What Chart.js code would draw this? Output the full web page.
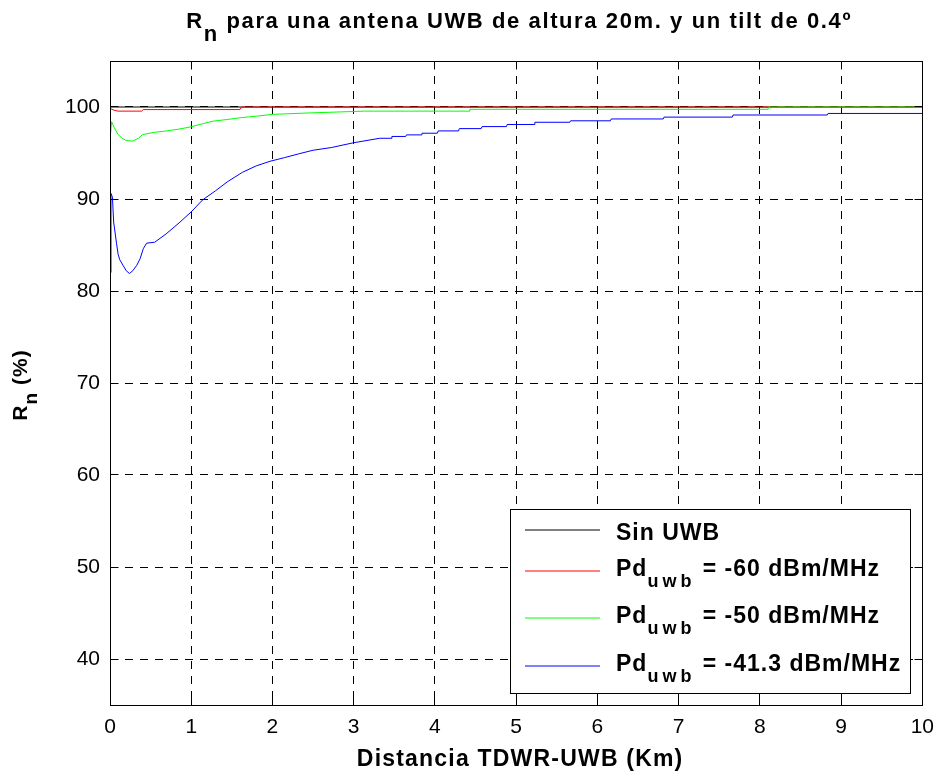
<!DOCTYPE html>
<html>
<head>
<meta charset="utf-8">
<script src="https://cdn.jsdelivr.net/npm/chart.js@4.4.1/dist/chart.umd.min.js"></script>
<style>
html,body{margin:0;padding:0;background:#fff;}
#wrap{width:944px;height:773px;}
</style>
</head>
<body>
<div id="wrap"><canvas id="c" width="944" height="773"></canvas></div>
<script>
// ---- data ----
const xTicks = [0,1,2,3,4,5,6,7,8,9,10];
const yTicks = [40,50,60,70,80,90,100];

const sinUWB = [[0,100],[10,100]];
const pd60 = [[0,99.85],[0.05,99.65],[0.1,99.55],[0.39,99.55],[0.41,99.72],[1.6,99.72],[1.62,100],[10,100]];
const pd50 = [[0,96.4],[0.02,98.4],[0.05,97.8],[0.1,97.0],[0.15,96.6],[0.2,96.35],[0.28,96.3],[0.35,96.6],
  [0.4,97.0],[0.55,97.25],[0.7,97.4],[0.85,97.6],[1.0,97.85],[1.15,98.2],[1.26,98.45],[1.45,98.65],
  [1.62,98.85],[1.8,99.0],[2.0,99.2],[2.44,99.35],[3.13,99.55],[4.42,99.55],[4.43,99.75],[8.1,99.75],
  [8.11,100],[10,100]];
const pd413 = [[0,82.0],[0.012,90.6],[0.03,90.2],[0.045,87.5],[0.08,85.2],[0.1,84.0],[0.12,83.4],[0.16,82.8],
  [0.2,82.2],[0.24,81.9],[0.28,82.2],[0.33,82.8],[0.37,83.5],[0.41,84.6],[0.45,85.2],[0.55,85.3],[0.69,86.2],
  [0.85,87.4],[1.0,88.6],[1.14,89.9],[1.3,90.9],[1.45,91.9],[1.63,92.9],[1.8,93.6],[1.97,94.1],[2.15,94.5],
  [2.32,94.9],[2.5,95.3],[2.73,95.6],[2.99,96.1],[3.32,96.6],[3.46,96.6],[3.47,96.8],[3.64,96.8],[3.65,96.97],
  [3.83,96.97],[3.84,97.15],[4.03,97.15],[4.04,97.4],[4.29,97.4],[4.3,97.65],[4.57,97.65],[4.58,97.87],
  [4.88,97.87],[4.89,98.1],[5.22,98.1],[5.23,98.34],[5.66,98.34],[5.67,98.5],[6.16,98.5],[6.17,98.7],
  [6.81,98.7],[6.82,98.9],[7.66,98.9],[7.67,99.13],[8.83,99.13],[8.84,99.3],[10,99.3]];

const seriesData = [sinUWB, pd60, pd50, pd413];
const seriesColors = ['#000000','#ff0000','#00ff00','#0000ff'];
const legendMain = ['Sin UWB','Pd','Pd','Pd'];
const legendSub = ['','uwb','uwb','uwb'];
const legendTail = ['',' = -60 dBm/MHz',' = -50 dBm/MHz',' = -41.3 dBm/MHz'];

const titleMain = 'R';
const titleSub = 'n';
const titleTail = ' para una antena UWB de altura 20m. y un tilt de 0.4º';
const yLabelMain = 'R';
const yLabelSub = 'n';
const yLabelTail = ' (%)';
const xLabel = 'Distancia TDWR-UWB (Km)';

// ---- drawing helpers ----
const FF = '"Liberation Sans", Arial, Helvetica, sans-serif';

function measure(ctx, p) {
  const sp = p.spacing || 0;
  let w = 0; for (const ch of p.text) w += ctx.measureText(ch).width + sp; return w;
}
function drawParts(ctx, parts, x, y, center) {
  let w = 0;
  parts.forEach(p => { ctx.font = p.font; p.w = measure(ctx, p); w += p.w; });
  let cx = center ? x - w / 2 : x;
  parts.forEach(p => {
    ctx.font = p.font;
    const sp = p.spacing || 0;
    for (const ch of p.text) { ctx.fillText(ch, cx, y + (p.dy || 0)); cx += ctx.measureText(ch).width + sp; }
  });
}

const decorPlugin = {
  id: 'decor',
  afterDraw(chart) {
    const ctx = chart.ctx;
    const a = chart.chartArea;
    const xs = chart.scales.x, ys = chart.scales.y;
    ctx.save();
    ctx.strokeStyle = '#000'; ctx.lineWidth = 1; ctx.setLineDash([]);
    const L0 = Math.floor(a.left) + 0.5, T0 = Math.floor(a.top) + 0.5;
    const R0 = Math.floor(a.right) + 0.5, B0 = Math.floor(a.bottom) + 0.5;
    ctx.strokeRect(L0, T0, R0 - L0, B0 - T0);
    const tl = 8;
    ctx.beginPath();
    xTicks.forEach(v => {
      const px = Math.floor(xs.getPixelForValue(v)) + 0.5;
      ctx.moveTo(px, B0); ctx.lineTo(px, B0 - tl);
      ctx.moveTo(px, T0); ctx.lineTo(px, T0 + tl);
    });
    yTicks.forEach(v => {
      const py = Math.floor(ys.getPixelForValue(v)) + 0.5;
      ctx.moveTo(L0, py); ctx.lineTo(L0 + tl, py);
      ctx.moveTo(R0, py); ctx.lineTo(R0 - tl, py);
    });
    ctx.stroke();

    ctx.fillStyle = '#000';
    ctx.textBaseline = 'alphabetic';
    const midX = (a.left + a.right) / 2;
    drawParts(ctx, [
      {text: titleMain, font: 'bold 22px ' + FF, spacing: 1.6},
      {text: titleSub, font: 'bold 22px ' + FF, dy: 13, spacing: 1.6},
      {text: titleTail, font: 'bold 22px ' + FF, spacing: 1.6}
    ], midX + 3, 28, true);
    drawParts(ctx, [{text: xLabel, font: 'bold 23px ' + FF, spacing: 1.2}], midX + 4, 766, true);
    ctx.save();
    ctx.translate(27, (a.top + a.bottom) / 2 + 2);
    ctx.rotate(-Math.PI / 2);
    drawParts(ctx, [
      {text: yLabelMain, font: 'bold 21px ' + FF, spacing: 1},
      {text: yLabelSub, font: 'bold 19px ' + FF, dy: 10, spacing: 1},
      {text: yLabelTail, font: 'bold 21px ' + FF, spacing: 1}
    ], 0, 0, true);
    ctx.restore();

    // legend
    const L = {x: 510, y: 509, w: 400, h: 184};
    ctx.fillStyle = '#fff';
    ctx.fillRect(L.x, L.y, L.w, L.h);
    ctx.strokeStyle = '#000'; ctx.lineWidth = 1;
    ctx.strokeRect(L.x + 0.5, L.y + 0.5, L.w, L.h);
    const lineY = [530, 571, 618, 666];
    const baseY = [540, 576, 623, 671];
    for (let i = 0; i < legendMain.length; i++) {
      ctx.strokeStyle = seriesColors[i]; ctx.lineWidth = 1;
      ctx.beginPath(); ctx.moveTo(525, lineY[i]); ctx.lineTo(600, lineY[i]); ctx.stroke();
      ctx.fillStyle = '#000';
      const parts = [{text: legendMain[i], font: 'bold 23px ' + FF, spacing: 1}];
      if (legendSub[i]) parts.push({text: legendSub[i], font: 'bold 18px ' + FF, dy: 11, spacing: 4});
      if (legendTail[i]) parts.push({text: legendTail[i], font: 'bold 23px ' + FF, spacing: 1});
      drawParts(ctx, parts, 616, baseY[i], false);
    }
    ctx.restore();
  }
};

const datasets = seriesData.map((d, i) => ({
  data: d.map(p => ({x: p[0], y: p[1]})),
  borderColor: seriesColors[i],
  borderWidth: 1,
  pointRadius: 0,
  fill: false,
  tension: 0,
  order: seriesData.length - i
}));

new Chart(document.getElementById('c'), {
  type: 'line',
  data: { datasets },
  options: {
    responsive: false,
    animation: false,
    devicePixelRatio: 1,
    layout: { padding: { top: 61, right: 15, left: 0, bottom: 0 } },
    plugins: { legend: { display: false }, title: { display: false }, tooltip: { enabled: false } },
    scales: {
      x: {
        type: 'linear', min: 0, max: 10,
        afterBuildTicks: s => { s.ticks = xTicks.map(v => ({value: v})); },
        afterFit: s => { s.height = 68; },
        ticks: { color: '#000', font: { family: FF, size: 21 }, padding: 10, maxRotation: 0, autoSkip: false },
        grid: { color: '#000', lineWidth: 1, drawTicks: false },
        border: { display: false, dash: [8, 7] }
      },
      y: {
        type: 'linear', min: 35, max: 105,
        afterBuildTicks: s => { s.ticks = yTicks.map(v => ({value: v})); },
        afterFit: s => { s.width = 110; },
        ticks: { color: '#000', font: { family: FF, size: 21 }, padding: 10, autoSkip: false },
        grid: { color: '#000', lineWidth: 1, drawTicks: false },
        border: { display: false, dash: [8, 7] }
      }
    }
  },
  plugins: [decorPlugin]
});
</script>
</body>
</html>
